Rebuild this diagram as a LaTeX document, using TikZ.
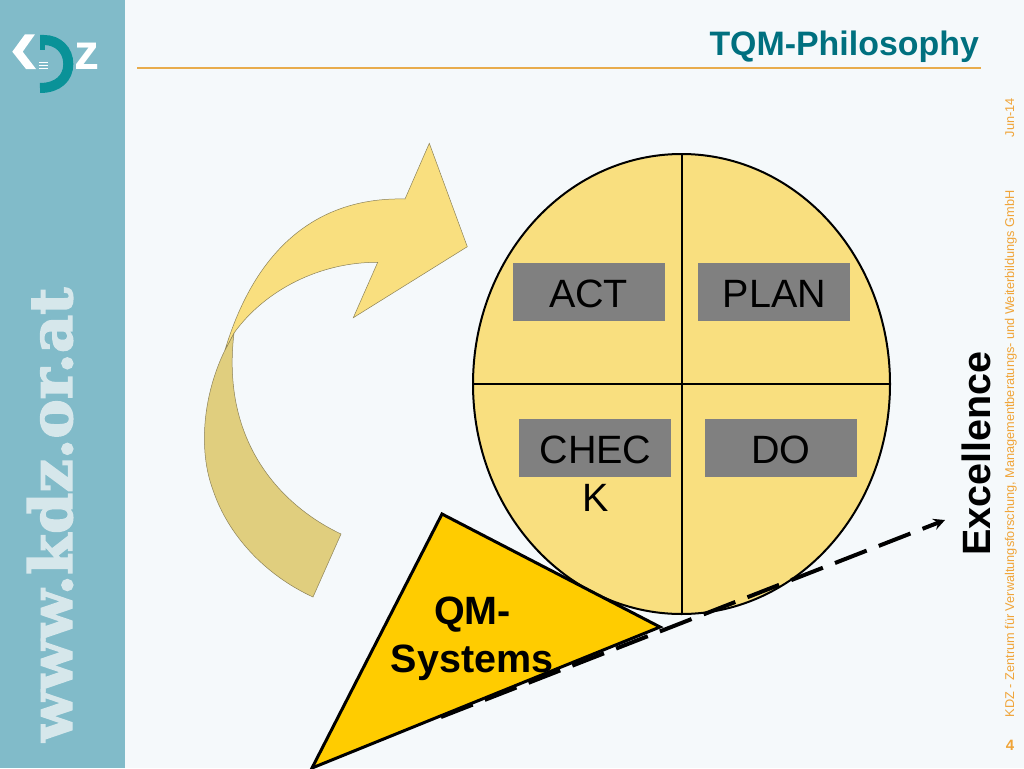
\documentclass[tikz,border=0pt]{standalone}
\usepackage{fontspec}
\setmainfont{Liberation Sans}
\newfontfamily\slabfont[BoldFeatures={FakeBold=2.5}]{DejaVu Serif}
\usetikzlibrary{shapes,arrows,positioning}
\definecolor{pagebg}{HTML}{F5F9FB}
\definecolor{sidebar}{HTML}{81BBC9}
\definecolor{sidetext}{HTML}{D6E7EB}
\definecolor{logoteal}{HTML}{0A9298}
\definecolor{titleteal}{HTML}{00707F}
\definecolor{ruleorange}{HTML}{E8AC4C}
\definecolor{footorange}{HTML}{F0A438}
\definecolor{cycleyellow}{HTML}{F9DF7F}
\definecolor{arrowdark}{HTML}{E0CE7E}
\definecolor{arrowedge}{HTML}{8C8258}
\definecolor{qmyellow}{HTML}{FFCC00}
\definecolor{boxgray}{HTML}{808080}
\tikzset{
  pdcabox/.style={fill=boxgray, minimum width=152pt, minimum height=58pt, inner sep=0pt},
  pdcatext/.style={align=center, inner sep=0pt, font=\fontsize{39.5}{48}\selectfont},
  bigbold/.style={inner sep=0pt, font=\fontsize{39.5}{48}\selectfont\bfseries},
  sidenote/.style={rotate=90, anchor=base west, inner sep=0pt, text=footorange, font=\fontsize{12.75}{15}\selectfont},
  bandedge/.style={draw=arrowedge, line width=0.5pt}
}
\begin{document}
\begin{tikzpicture}[x=1pt,y=-1pt]
\useasboundingbox (0,0) rectangle (1024,768);

% Draw page
\fill[pagebg] (0,0) rectangle (1024,768);
\fill[sidebar] (0,0) rectangle (125,768);

% Draw logo
\fill[white] (25,34.3) -- (35,34.3) -- (22.7,51.7) -- (36,69) -- (26,69) -- (12.3,51.7) -- cycle;
\draw[logoteal, line width=10pt] (40,40) -- (44,40) .. controls (58,40) and (68.3,50) .. (68.3,64) .. controls (68.3,78) and (58,88) .. (40,88);
\fill[logoteal] (40,45) rectangle (45,50);
\foreach \y in {62.5,65.5,68.5}
    \draw[white, line width=1.8pt] (39,\y) -- (48,\y);
\node[anchor=base west, inner sep=0pt, text=white, font=\fontsize{50}{50}\selectfont\bfseries] (logoz) at (74.5,70) {z};

% Draw side text
\node[rotate=90, anchor=base west, inner sep=0pt, text=sidetext, font=\slabfont\fontsize{59}{60}\selectfont\bfseries] (website) at (72,742) {www.kdz.or.at};

% Draw title
\node[anchor=base east, inner sep=0pt, text=titleteal, font=\fontsize{33.9}{40}\selectfont\bfseries] (title) at (979,56) {TQM-Philosophy};
\coordinate (ruleleft) at (137,68);
\coordinate (ruleright) at (981,68);
\draw[ruleorange, line width=1.5pt] (ruleleft) -- (ruleright);

% Draw turning arrow
\filldraw[fill=arrowdark, bandedge] (225,350) .. controls (203,395) and (198,450) .. (213,490) .. controls (228,535) and (265,575) .. (313,597) -- (341,534) .. controls (290,510) and (220,450) .. (234,333) -- cycle;
\filldraw[fill=cycleyellow, bandedge] (225,350) .. controls (258,240) and (325,197) .. (405,199) -- (429.3,143.3) -- (467.3,246.7) -- (353.3,317.7) -- (377.7,262.3) .. controls (320,262) and (265,290) .. (234,333) -- cycle;

% Draw cycle
\node[ellipse, draw, fill=cycleyellow, line width=2pt, minimum width=417pt, minimum height=460pt, inner sep=0pt] (cycle) at (681.5,384) {};
\draw[line width=2pt] (cycle.north) -- (cycle.south);
\draw[line width=2pt] (cycle.west) -- (cycle.east);

% Draw boxes
\node[pdcabox] (actbox) at (588.5,292) {};
\node[pdcabox] (planbox) at (774,292) {};
\node[pdcabox] (checkbox) at (595,448) {};
\node[pdcabox] (dobox) at (781,448) {};
\node[pdcatext] (acttext) at (588.5,293.5) {ACT};
\node[pdcatext] (plantext) at (774.5,293.5) {PLAN};
\node[pdcatext] (dotext) at (781,449.5) {DO};
\node[pdcatext, anchor=north] (checktext) at (595.5,436) {CHEC\\K};

% Draw wedge
\coordinate (wedgetop) at (442,514);
\coordinate (wedgeright) at (660,627);
\coordinate (wedgeleft) at (312,768);
\filldraw[fill=qmyellow, line width=3pt, line join=miter] (wedgetop) -- (wedgeright) -- (wedgeleft) -- cycle;

% Draw slope
\coordinate (slopestart) at (441,717);
\coordinate (slopeend) at (945,520);
\draw[-stealth, line width=4pt, dash pattern=on 34pt off 13pt] (slopestart) -- (slopeend);

% Label wedge
\node[bigbold, anchor=base] (qm) at (472.5,624) {QM-};
\node[bigbold, anchor=base] (systems) at (472,672) {Systems};
\node[bigbold, rotate=90, anchor=base west] (excellence) at (990,556) {Excellence};

% Draw footer
\node[sidenote] (footer) at (1014,717.5) {KDZ - Zentrum für Verwaltungsforschung, Managementberatungs- und Weiterbildungs GmbH};
\node[sidenote] (date) at (1014,137.5) {Jun-14};
\node[text=footorange, inner sep=0pt, font=\fontsize{15}{15}\selectfont\bfseries] (pagenum) at (1010,745) {4};
\end{tikzpicture}
\end{document}
